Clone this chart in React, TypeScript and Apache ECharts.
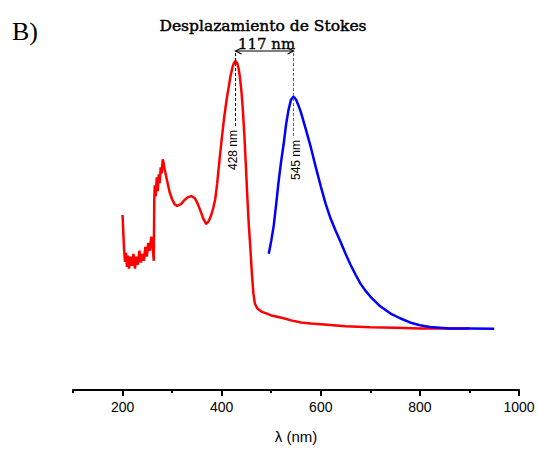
import React, { useEffect, useRef } from "react";
import * as echarts from "echarts";

// Absorption spectrum (red)
const absWavelength = [
  200, 201, 203, 205, 207, 209, 211, 213, 216, 219, 222, 225, 228, 231, 234, 237, 240, 243, 246, 249,
  252, 255, 258, 261, 263, 264, 265, 267, 269, 271, 273, 275, 277, 279, 281, 283, 285, 290, 295, 300,
  305, 310, 318, 325, 332, 339, 346, 352, 358, 363, 369, 374, 379, 383, 387, 391, 395, 400, 405, 410,
  414, 418, 422, 425, 428, 431, 434, 437, 440, 443, 446, 449, 452, 455, 458, 461, 464, 467, 472, 480,
  490, 500, 510, 525, 540, 560, 580, 600, 650, 700, 750, 800, 850, 900,
];
const absIntensity = [
  50.0, 46.6, 40.3, 36.6, 39.2, 35.2, 38.4, 34.7, 38.1, 35.5, 38.9, 34.7, 38.1, 35.8, 39.8, 36.4, 38.9, 36.9, 40.9, 38.1,
  42.0, 39.8, 43.8, 40.3, 36.9, 54.5, 58.5, 55.4, 60.8, 56.8, 61.6, 59.1, 63.6, 61.9, 65.9, 64.8, 63.1, 59.7, 56.5, 54.5,
  53.1, 52.6, 53.1, 54.3, 55.1, 55.4, 54.8, 53.1, 50.9, 48.9, 47.4, 48.3, 50.0, 52.0, 54.5, 59.1, 64.8, 71.6, 77.8, 83.0,
  86.4, 89.8, 92.3, 93.5, 94.0, 93.5, 92.0, 89.2, 85.2, 79.5, 72.2, 63.6, 54.5, 46.6, 40.3, 33.2, 27.6, 24.7, 23.3, 22.4,
  21.9, 21.3, 21.0, 20.5, 19.9, 19.3, 19.0, 18.8, 18.2, 17.9, 17.8, 17.6, 17.6, 17.6,
];

// Emission spectrum (blue)
const emWavelength = [
  495, 500, 505, 510, 515, 520, 525, 530, 535, 540, 545, 550, 555, 560, 570, 580, 590, 600, 610, 620,
  630, 640, 650, 660, 670, 680, 690, 700, 720, 740, 760, 780, 800, 820, 840, 860, 900, 950,
];
const emIntensity = [
  38.9, 42.6, 46.9, 53.1, 59.7, 65.3, 70.2, 75.9, 80.1, 83.0, 83.8, 83.0, 81.3, 79.3, 74.4, 69.3, 63.6, 58.2, 53.1, 48.9,
  45.5, 42.3, 38.9, 35.8, 33.0, 30.4, 28.4, 26.7, 23.9, 21.9, 20.5, 19.3, 18.5, 18.0, 17.8, 17.6, 17.6, 17.5,
];

const majorTicks = [200, 400, 600, 800, 1000];
const minorTicks = [100, 300, 500, 700, 900];
const absPeak = 428;
const emPeak = 545;
const stokesShift = emPeak - absPeak;

export default function App() {
  const ref = useRef<HTMLDivElement>(null);

  useEffect(() => {
    if (!ref.current) return;
    const chart = echarts.init(ref.current, null, { renderer: "svg" });
    const option: any = {
      animation: false,
      grid: { left: 73, right: 19, top: 40, bottom: 57 },
      xAxis: [
        {
          type: "value",
          min: 100,
          max: 1000,
          position: "bottom",
          axisLine: { show: true, lineStyle: { color: "#000", width: 2 } },
          axisTick: { show: true, customValues: majorTicks, length: 6, lineStyle: { color: "#000", width: 2 } },
          axisLabel: {
            customValues: majorTicks,
            formatter: (v: number) => String(v),
            fontFamily: "Liberation Sans",
            fontSize: 14,
            color: "#000",
            margin: 10,
          },
          splitLine: { show: false },
          name: "λ (nm)",
          nameLocation: "middle",
          nameGap: 39,
          nameTextStyle: { fontFamily: "Liberation Sans", fontSize: 15, color: "#000" },
        },
        {
          type: "value",
          min: 100,
          max: 1000,
          position: "bottom",
          axisLine: { show: false },
          axisTick: { show: true, customValues: minorTicks, length: 3, lineStyle: { color: "#000", width: 2 } },
          axisLabel: { show: false },
          splitLine: { show: false },
        },
      ],
      yAxis: { type: "value", min: 0, max: 100, show: false },
      series: [
        {
          type: "line",
          xAxisIndex: 0,
          data: absWavelength.map((w, i) => [w, absIntensity[i]]),
          showSymbol: false,
          lineStyle: { color: "#ff0000", width: 2.5 },
          itemStyle: { color: "#ff0000" },
          z: 2,
        },
        {
          type: "line",
          xAxisIndex: 0,
          data: emWavelength.map((w, i) => [w, emIntensity[i]]),
          showSymbol: false,
          lineStyle: { color: "#0000ff", width: 2.5 },
          itemStyle: { color: "#0000ff" },
          z: 3,
        },
      ],
    };
    chart.setOption(option);

    const xr = chart.convertToPixel({ xAxisIndex: 0, yAxisIndex: 0 }, [absPeak, 0])[0];
    const xb = chart.convertToPixel({ xAxisIndex: 0, yAxisIndex: 0 }, [emPeak, 0])[0];
    const arrowY = 51;
    const serif = "DejaVu Serif";
    chart.setOption({
      graphic: [
        {
          type: "text",
          left: 12,
          top: 18,
          style: { text: "B)", font: `26px "Liberation Serif"`, fill: "#000" },
        },
        {
          type: "text",
          x: 263,
          y: 26,
          style: {
            text: "Desplazamiento de Stokes",
            font: `15.5px "${serif}"`,
            fill: "#000",
            stroke: "#000",
            lineWidth: 0.45,
            align: "center",
            verticalAlign: "middle",
          },
        },
        {
          type: "text",
          x: (xr + xb) / 2 + 2,
          y: 44,
          style: {
            text: `${stokesShift} nm`,
            font: `15px "${serif}"`,
            fill: "#000",
            stroke: "#000",
            lineWidth: 0.3,
            align: "center",
            verticalAlign: "middle",
          },
        },
        {
          type: "line",
          shape: { x1: xr, y1: arrowY, x2: xb, y2: arrowY },
          style: { stroke: "#000", lineWidth: 1.2 },
          z: 10,
        },
        {
          type: "polyline",
          shape: { points: [[xr + 6, arrowY - 3], [xr, arrowY], [xr + 6, arrowY + 3]] },
          style: { stroke: "#000", lineWidth: 1.2, fill: "none" },
          z: 10,
        },
        {
          type: "polyline",
          shape: { points: [[xb - 6, arrowY - 3], [xb, arrowY], [xb - 6, arrowY + 3]] },
          style: { stroke: "#000", lineWidth: 1.2, fill: "none" },
          z: 10,
        },
        {
          type: "line",
          shape: { x1: xr, y1: 53, x2: xr, y2: 128 },
          style: { stroke: "#000", lineWidth: 1, lineDash: [3, 2] },
          z: 10,
        },
        {
          type: "line",
          shape: { x1: xb, y1: 53, x2: xb, y2: 138 },
          style: { stroke: "#666", lineWidth: 1, lineDash: [3, 2] },
          z: 10,
        },
        {
          type: "text",
          x: xr - 3,
          y: 150,
          rotation: Math.PI / 2,
          style: {
            text: `${absPeak} nm`,
            font: `12px "Liberation Sans"`,
            fill: "#000",
            align: "center",
            verticalAlign: "middle",
          },
          z: 10,
        },
        {
          type: "text",
          x: xb + 2,
          y: 160,
          rotation: Math.PI / 2,
          style: {
            text: `${emPeak} nm`,
            font: `12px "Liberation Sans"`,
            fill: "#000",
            align: "center",
            verticalAlign: "middle",
          },
          z: 10,
        },
      ],
    });

    return () => chart.dispose();
  }, []);

  return (
    <div
      ref={ref}
      style={{ position: "absolute", left: 0, top: 0, width: 538, height: 449 }}
    />
  );
}
